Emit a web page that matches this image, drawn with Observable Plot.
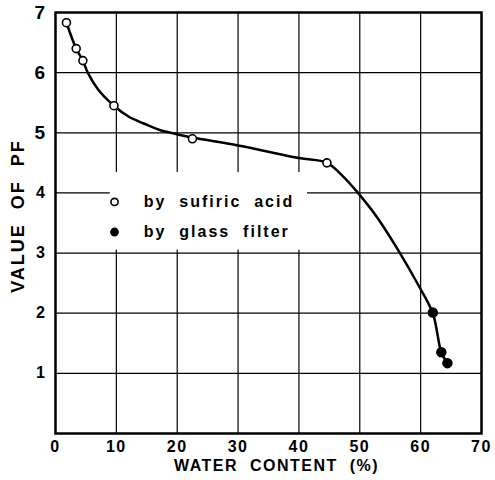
<!DOCTYPE html>
<html>
<head>
<meta charset="utf-8">
<script src="https://cdn.jsdelivr.net/npm/d3@7"></script>
<script src="https://cdn.jsdelivr.net/npm/@observablehq/plot@0.6"></script>
<style>
  html, body { margin: 0; padding: 0; background: #fff; }
  #chart svg { display: block; }
</style>
</head>
<body>
<div id="chart"></div>
<script>
// Measured points: sulfuric acid (open circles)
const acidWater = [1.8, 3.4, 4.5, 9.6, 22.5, 44.6];
const acidPF    = [6.83, 6.40, 6.20, 5.45, 4.90, 4.50];
// Measured points: glass filter (filled circles)
const glassWater = [62.0, 63.4, 64.4];
const glassPF    = [2.01, 1.35, 1.17];
// Hand-drawn curve
const curveWater = [1.8, 3.4, 4.5, 5.3, 7.0, 9.6, 12.0, 14.6, 17.0, 19.8, 22.5, 30.0, 40.0, 44.6, 47.0, 49.7, 52.8, 56.6, 59.5, 62.0, 63.4, 64.4];
const curvePF    = [6.83, 6.40, 6.20, 6.00, 5.72, 5.45, 5.27, 5.15, 5.05, 4.98, 4.92, 4.79, 4.58, 4.50, 4.30, 4.00, 3.60, 3.00, 2.49, 2.00, 1.35, 1.17];
// Tick labels
const xTicks = [0, 10, 20, 30, 40, 50, 60, 70];
const yTicksLarge = [5, 6, 7];
const yTicksSmall = [1, 2, 3, 4];
const gridXValues = [10, 20, 30, 40, 50, 60];
const gridYValues = [1, 2, 3, 4, 5, 6];
// Legend
const legendLabels = ["by  sufiric  acid", "by  glass  filter"];
const legendBox = [{x1: 9.0, x2: 41.4, y1: 3.05, y2: 4.34}];
const legendX = 9.7;
const legendTextX = 14.5;
const legendY = [3.85, 3.35];

const acid = acidWater.map((w, i) => ({w, pf: acidPF[i]}));
const glass = glassWater.map((w, i) => ({w, pf: glassPF[i]}));
const curve = curveWater.map((w, i) => ({w, pf: curvePF[i]}));
const legend = legendLabels.map((t, i) => ({t, x: legendX, tx: legendTextX, y: legendY[i], filled: i === 1}));

const font = "'Liberation Sans', Arial, sans-serif";

const chart = Plot.plot({
  width: 495,
  height: 480,
  marginLeft: 55,
  marginTop: 12,
  marginRight: 14,
  marginBottom: 47,
  style: {fontFamily: font, fontWeight: "bold", color: "#000", background: "#fff"},
  x: {domain: [0, 70]},
  y: {domain: [0, 7]},
  marks: [
    Plot.gridX(gridXValues, {stroke: "#000", strokeOpacity: 1, strokeWidth: 1.2}),
    Plot.gridY(gridYValues, {stroke: "#000", strokeOpacity: 1, strokeWidth: 1.2}),
    Plot.rect(legendBox, {x1: "x1", x2: "x2", y1: "y1", y2: "y2", fill: "#fff"}),
    Plot.frame({stroke: "#000", strokeWidth: 2.5}),
    Plot.axisX(xTicks, {tickSize: 0, tickPadding: 7, fontSize: 16, fontWeight: "bold", tickFormat: "d", label: null}),
    Plot.axisY(yTicksLarge, {tickSize: 0, tickPadding: 9, fontSize: 19, fontWeight: "bold", tickFormat: "d", label: null}),
    Plot.axisY(yTicksSmall, {tickSize: 0, tickPadding: 9, fontSize: 16, fontWeight: "bold", tickFormat: "d", label: null}),
    Plot.text(["WATER  CONTENT  (%)"], {frameAnchor: "bottom", dy: 37, dx: 8, fontSize: 16, fontWeight: "bold"}),
    Plot.text(["VALUE  OF  PF"], {frameAnchor: "left", textAnchor: "middle", dx: -37, dy: -7, rotate: -90, fontSize: 18, fontWeight: "bold", className: "ylab"}),
    Plot.line(curve, {x: "w", y: "pf", curve: "catmull-rom", stroke: "#000", strokeWidth: 2.5}),
    Plot.dot(acid, {x: "w", y: "pf", r: 4, fill: "#fff", stroke: "#000", strokeWidth: 1.6}),
    Plot.dot(glass, {x: "w", y: "pf", r: 4.5, fill: "#000", stroke: "#000"}),
    Plot.dot(legend, {x: "x", y: "y", r: 3.6, fill: d => d.filled ? "#000" : "#fff", stroke: "#000", strokeWidth: 1.6}),
    Plot.text(legend, {x: "tx", y: "y", text: "t", textAnchor: "start", fontSize: 16, fontWeight: "bold", className: "leg"})
  ]
});
document.getElementById("chart").appendChild(chart);
d3.select(chart).selectAll("text").style("letter-spacing", "1.5px");
d3.select(chart).selectAll(".ylab text, .leg text").style("letter-spacing", "2px");
</script>
</body>
</html>
